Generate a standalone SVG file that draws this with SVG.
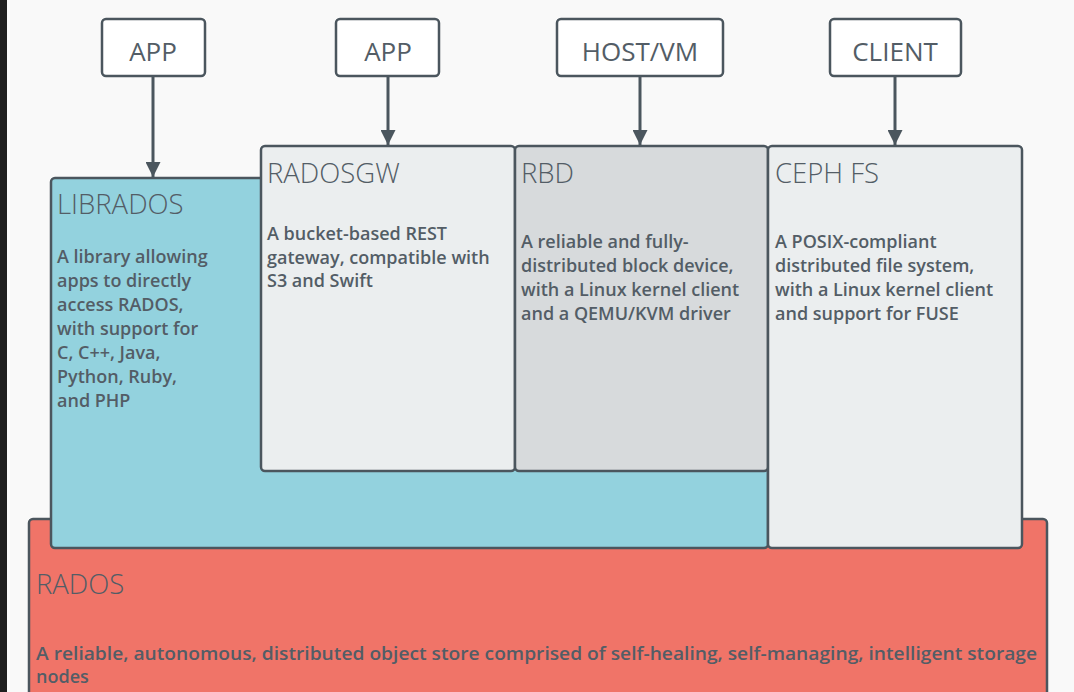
<svg xmlns="http://www.w3.org/2000/svg" width="1074" height="692" viewBox="0 0 1074 692">
<defs>
<style>
.box{stroke:#4b565e;stroke-width:2.5}
.top{fill:#ffffff}
.t{font-family:"Open Sans","DejaVu Sans",sans-serif;fill:#535d66}
.lab{font-size:26px;text-anchor:middle}
.title{font-size:27.5px;font-weight:300}
.body{font-size:18px;font-weight:600}
.conn{stroke:#4b565e;stroke-width:3;fill:none}
</style>
<marker id="arr" markerWidth="15" markerHeight="15" refX="15" refY="7.5" orient="auto" markerUnits="userSpaceOnUse" viewBox="0 0 15 15">
<path d="M0,0 L15,7.5 L0,15 z" fill="#4b565e"/>
</marker>
</defs>
<rect x="0" y="0" width="1074" height="692" fill="#f9f9f9"/>
<rect x="0" y="0" width="7" height="692" fill="#1e1e1e"/>

<g id="rados">
<rect class="box" x="29" y="519" width="1018" height="190" rx="4" fill="#f07468"/>
<text class="t title" x="36" y="594">RADOS</text>
<text class="t body" x="36" y="660" textLength="1001" lengthAdjust="spacingAndGlyphs">A reliable, autonomous, distributed object store comprised of self-healing, self-managing, intelligent storage</text>
<text class="t body" x="36" y="683">nodes</text>
</g>

<g id="librados">
<rect class="box" x="51" y="178" width="717" height="370" rx="4" fill="#93d2de"/>
<text class="t title" x="57" y="214">LIBRADOS</text>
<text class="t body" x="57" y="263">A library allowing</text>
<text class="t body" x="57" y="287">apps to directly</text>
<text class="t body" x="57" y="311">access RADOS,</text>
<text class="t body" x="57" y="335">with support for</text>
<text class="t body" x="57" y="359">C, C++, Java,</text>
<text class="t body" x="57" y="383">Python, Ruby,</text>
<text class="t body" x="57" y="407">and PHP</text>
</g>

<g id="radosgw">
<rect class="box" x="261" y="146" width="254" height="325" rx="4" fill="#ebeeef"/>
<text class="t title" x="267" y="183">RADOSGW</text>
<text class="t body" x="267" y="240">A bucket-based REST</text>
<text class="t body" x="267" y="264">gateway, compatible with</text>
<text class="t body" x="267" y="287">S3 and Swift</text>
</g>

<g id="rbd">
<rect class="box" x="515" y="146" width="253" height="325" rx="4" fill="#d7dadc"/>
<text class="t title" x="521" y="183">RBD</text>
<text class="t body" x="521" y="248">A reliable and fully-</text>
<text class="t body" x="521" y="272">distributed block device,</text>
<text class="t body" x="521" y="296">with a Linux kernel client</text>
<text class="t body" x="521" y="320">and a QEMU/KVM driver</text>
</g>

<g id="cephfs">
<rect class="box" x="768" y="146" width="254" height="402" rx="4" fill="#ebeeef"/>
<text class="t title" x="775" y="183">CEPH FS</text>
<text class="t body" x="775" y="248">A POSIX-compliant</text>
<text class="t body" x="775" y="272">distributed file system,</text>
<text class="t body" x="775" y="296">with a Linux kernel client</text>
<text class="t body" x="775" y="320">and support for FUSE</text>
</g>

<g id="app1">
<rect class="box top" x="102" y="19" width="103" height="57" rx="4"/>
<text class="t lab" x="153" y="61">APP</text>
</g>
<g id="app2">
<rect class="box top" x="336" y="19" width="103" height="57" rx="4"/>
<text class="t lab" x="388" y="61">APP</text>
</g>
<g id="hostvm">
<rect class="box top" x="557" y="19" width="166" height="57" rx="4"/>
<text class="t lab" x="640" y="61">HOST/VM</text>
</g>
<g id="client">
<rect class="box top" x="830" y="19" width="131" height="57" rx="4"/>
<text class="t lab" x="895" y="61">CLIENT</text>
</g>

<g id="connectors">
<line class="conn" x1="153" y1="77" x2="153" y2="177" marker-end="url(#arr)"/>
<line class="conn" x1="388" y1="77" x2="388" y2="145" marker-end="url(#arr)"/>
<line class="conn" x1="640" y1="77" x2="640" y2="145" marker-end="url(#arr)"/>
<line class="conn" x1="895" y1="77" x2="895" y2="145" marker-end="url(#arr)"/>
</g>
</svg>
